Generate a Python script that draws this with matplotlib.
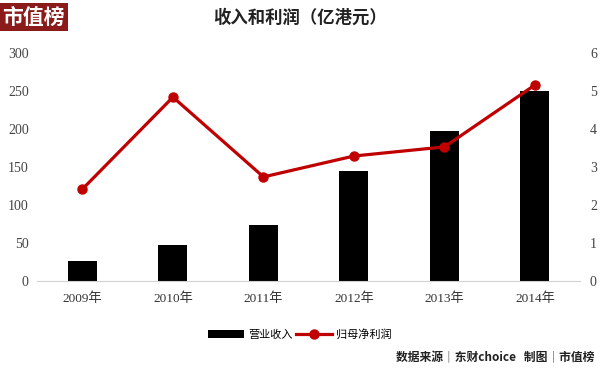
import matplotlib.pyplot as plt
import numpy as np

plt.rcParams['font.family'] = ['Noto Sans CJK SC', 'DejaVu Sans']

years = ['2009年', '2010年', '2011年', '2012年', '2013年', '2014年']
revenue = [26, 47, 74, 145, 197, 250]
profit = [2.42, 4.84, 2.74, 3.29, 3.53, 5.16]

serif = ['Liberation Serif', 'Noto Sans CJK SC']

fig = plt.figure(figsize=(6, 3.77), dpi=100)
ax = fig.add_axes([0.062, 0.2546, 0.905, 0.6047])
ax2 = ax.twinx()

x = np.arange(len(years))
ax.bar(x, revenue, width=0.32, color='black', zorder=2, label='营业收入')
ax2.plot(x, profit, color='#C00000', lw=2.3, marker='o', ms=6.5, zorder=3, label='归母净利润')

ax.set_xlim(-0.5, len(years) - 0.5)
ax.set_ylim(0, 300)
ax2.set_ylim(0, 6)
ax.set_yticks(range(0, 301, 50))
ax2.set_yticks(range(0, 7))
ax.set_xticks(x)
ax.set_xticklabels(years, family=serif, fontsize=9.5, color='#333333')

for a in (ax, ax2):
    for s in a.spines.values():
        s.set_visible(False)
    a.tick_params(length=0)
ax.spines['bottom'].set_visible(True)
ax.spines['bottom'].set_color('#d0d0d0')
ax.tick_params(axis='x', pad=8)
ax.tick_params(axis='y', labelsize=10, labelcolor='#444444', pad=6)
for t in ax.get_yticklabels():
    t.set_family(serif)
ax2.tick_params(axis='y', labelsize=10, labelcolor='#444444', pad=7)
for t in ax2.get_yticklabels():
    t.set_family(serif)

# legend
h1, l1 = ax.get_legend_handles_labels()
h2, l2 = ax2.get_legend_handles_labels()
fig.legend(h1 + h2, l1 + l2, loc='center', bbox_to_anchor=(0.5, 0.112), ncol=2,
           frameon=False, fontsize=8, handlelength=3.2, columnspacing=0.3,
           handletextpad=0.4)

# title and logo
fig.text(0.5, 0.952, '收入和利润（亿港元）', ha='center', va='center',
         fontsize=12.5, fontweight='bold', color='#222222')
fig.text(0.003, 0.955, '市值榜', ha='left', va='center', fontsize=15,
         color='white', fontweight='bold',
         bbox=dict(boxstyle='square,pad=0.15', fc='#8B1A1A', ec='none'))

fig.text(0.99, 0.052, '数据来源│东财choice   制图│市值榜', ha='right', va='center',
         fontsize=8.5, fontweight='bold', color='#222222')

fig.savefig('out.png', dpi=100)
